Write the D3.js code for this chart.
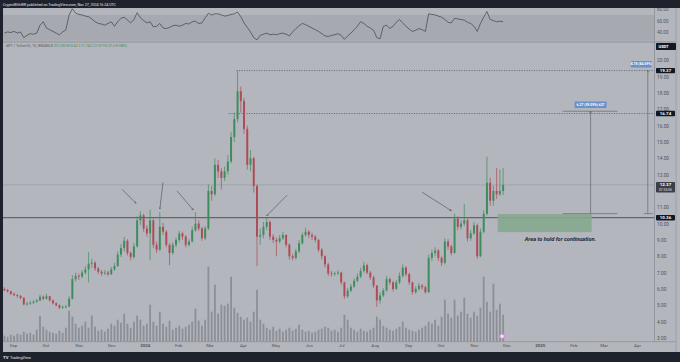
<!DOCTYPE html>
<html>
<head>
<meta charset="utf-8">
<script src="https://d3js.org/d3.v7.min.js"></script>
<style>
  body { margin: 0; background: #1e222d; }
  svg { display: block; font-family: Roboto, "Liberation Sans", sans-serif; }
</style>
</head>
<body>
<div id="chart"></div>
<script>
// APT / USDT, candles of 3 days from 2023-08-23
const startDate = new Date(Date.UTC(2023, 7, 23));
const opens = [6.00,5.93,5.85,5.70,5.62,5.58,5.45,5.05,5.10,5.15,5.22,5.30,5.52,5.40,5.55,5.30,5.12,5.00,4.85,4.90,
  4.92,5.40,6.60,6.80,6.75,7.00,7.20,7.55,7.60,7.25,7.05,6.95,7.00,6.90,7.20,7.40,8.10,8.50,8.95,8.20,
  7.95,8.60,10.20,10.50,9.70,9.40,10.20,8.70,8.40,9.80,9.50,8.70,8.20,8.70,9.00,9.40,9.20,8.70,8.90,9.60,
  10.00,9.70,9.10,9.70,12.00,11.80,13.60,13.20,12.80,13.20,13.80,15.30,16.40,18.10,17.50,15.80,13.60,14.00,12.30,9.20,
  9.30,9.80,10.10,9.20,9.00,8.90,9.10,9.30,8.70,8.00,7.90,8.30,8.80,9.30,9.50,9.30,9.20,9.00,8.40,8.00,
  7.50,6.95,6.90,6.95,7.00,6.40,5.55,5.90,6.15,6.50,6.75,7.10,7.45,7.00,6.70,6.20,5.30,5.60,5.90,6.60,
  6.40,6.00,6.40,6.80,7.30,6.90,6.40,5.80,6.00,6.20,6.10,5.80,7.90,8.20,8.35,7.90,7.60,8.90,8.60,8.20,
  10.30,9.80,10.00,10.20,9.10,9.40,9.90,8.00,9.50,10.60,12.50,11.40,12.00,11.80,12.00];
const closes = [5.93,5.85,5.70,5.62,5.58,5.45,5.05,5.10,5.15,5.22,5.30,5.52,5.40,5.55,5.30,5.12,5.00,4.85,4.90,4.92,
  5.40,6.60,6.80,6.75,7.00,7.20,7.55,7.60,7.25,7.05,6.95,7.00,6.90,7.20,7.40,8.10,8.50,8.95,8.20,7.95,
  8.60,10.20,10.50,9.70,9.40,10.20,8.70,8.40,9.80,9.50,8.70,8.20,8.70,9.00,9.40,9.20,8.70,8.90,9.60,10.00,
  9.70,9.10,9.70,12.00,11.80,13.60,13.20,12.80,13.20,13.80,15.30,16.40,18.10,17.50,15.80,13.60,14.00,12.30,9.20,9.30,
  9.80,10.10,9.20,9.00,8.90,9.10,9.30,8.70,8.00,7.90,8.30,8.80,9.30,9.50,9.30,9.20,9.00,8.40,8.00,7.50,
  6.95,6.90,6.95,7.00,6.40,5.55,5.90,6.15,6.50,6.75,7.10,7.45,7.00,6.70,6.20,5.30,5.60,5.90,6.60,6.40,
  6.00,6.40,6.80,7.30,6.90,6.40,5.80,6.00,6.20,6.10,5.80,7.90,8.20,8.35,7.90,7.60,8.90,8.60,8.20,10.30,
  9.80,10.00,10.20,9.10,9.40,9.90,8.00,9.50,10.60,12.50,11.40,12.00,11.80,12.00,12.37];
const highs = [6.10,6.00,5.90,5.78,5.70,5.62,5.50,5.20,5.25,5.30,5.38,5.65,5.60,5.70,5.58,5.35,5.18,5.05,4.98,5.02,
  5.55,6.85,7.00,6.95,7.15,7.40,8.25,7.85,7.70,7.35,7.15,7.15,7.10,7.35,7.60,8.30,8.75,9.20,9.05,8.30,
  8.80,10.45,10.75,10.60,9.90,10.85,10.30,8.90,10.70,10.05,9.60,8.80,8.85,9.15,9.55,9.50,9.30,9.05,9.80,10.70,
  10.20,9.80,9.85,12.40,12.30,14.00,13.90,13.40,13.50,14.20,15.60,16.80,19.37,18.40,17.70,16.00,14.50,14.10,12.40,9.70,
  10.10,10.35,10.20,9.35,9.15,9.30,9.50,9.35,8.80,8.15,8.45,9.00,9.45,9.75,9.60,9.45,9.30,9.05,8.50,8.05,
  7.60,7.10,7.05,7.15,7.05,6.45,6.05,6.30,6.65,6.95,7.30,7.65,7.55,7.10,6.80,6.25,5.80,6.05,6.80,6.70,
  6.50,6.55,7.00,7.50,7.40,7.00,6.45,6.15,6.35,6.30,6.20,8.10,8.40,8.55,8.45,8.00,9.10,9.05,8.70,10.60,
  10.45,10.20,11.20,10.30,9.60,10.10,10.00,9.70,10.80,14.10,12.80,12.30,13.40,13.30,13.41];
const lows = [5.85,5.78,5.62,5.55,5.45,5.35,4.98,4.98,5.02,5.08,5.15,5.25,5.32,5.35,5.22,5.05,4.92,4.76,4.78,4.82,
  4.88,5.35,6.45,6.55,6.65,6.90,6.40,7.30,7.10,6.90,6.80,6.85,6.78,6.85,7.10,7.35,7.95,8.30,8.05,7.75,
  7.85,8.55,9.90,9.50,9.20,7.75,8.50,8.20,8.30,9.30,8.55,7.45,8.10,8.55,8.85,9.00,8.55,8.60,8.85,9.50,
  9.55,8.95,9.00,9.60,11.40,11.70,12.80,12.10,12.60,13.00,13.70,15.00,16.20,16.80,15.50,13.30,13.20,11.90,7.40,8.70,
  9.10,9.60,9.00,8.80,8.00,8.80,9.00,8.55,7.80,7.75,7.80,8.20,8.70,9.20,9.10,9.00,8.85,8.25,7.80,7.30,
  6.80,6.75,6.80,6.85,6.25,5.40,5.45,5.80,6.05,6.40,6.65,7.00,6.90,6.55,6.05,4.91,5.10,5.50,5.85,6.25,
  5.85,5.95,6.30,6.70,6.75,6.25,5.65,5.70,5.90,5.95,5.70,5.75,7.70,8.00,7.70,7.40,7.50,8.40,8.05,8.15,
  9.60,9.65,9.85,8.90,8.95,9.30,7.85,7.95,9.40,10.50,11.10,11.10,11.50,11.70,11.74];
const volumes = [6,5,7,6,8,7,10,8,9,7,12,26,15,12,10,9,8,11,9,14,
  31,25,18,14,16,20,14,26,15,11,12,10,13,18,16,22,19,28,18,14,
  20,26,22,16,18,37,20,16,30,18,15,21,12,14,16,13,15,17,20,33,
  21,16,22,75,30,57,28,37,36,38,65,34,29,25,22,24,20,30,52,22,
  18,14,12,15,11,13,10,12,14,11,13,17,12,10,11,9,10,12,13,15,
  14,11,12,10,14,27,22,14,12,10,13,11,10,12,14,25,22,16,14,12,
  11,13,15,20,14,12,11,10,12,14,16,20,18,22,16,25,42,28,24,42,
  26,30,44,28,24,30,26,34,65,40,30,58,32,38,27];
const rsiValues = [38,40,39,41,38,40,30,34,37,36,38,52,58,47,44,41,38,35,40,44,
  70,81,73,71,70,68,67,63,58,55,54,52,55,58,50,58,64,66,61,56,
  62,74,65,60,56,58,49,50,55,47,46,48,51,52,50,52,55,54,58,59,
  55,56,65,73,70,72,72,70,68,69,71,72,75,67,56,48,40,30,26,34,
  36,38,35,36,35,37,38,36,33,40,46,51,55,53,50,47,44,41,37,33,
  32,34,35,37,34,27,33,38,44,50,58,55,50,47,43,30,28,50,52,46,
  50,57,62,56,50,45,41,43,46,44,41,72,71,70,68,66,62,57,56,64,
  63,62,61,57,55,50,41,55,66,76,62,60,58,59,58];

// 12.00 sits under the last-price tag, so it is left out
const priceTicks = [3,4,5,6,7,8,9,10,11,13,14,15,16,17,18,19,20];
const rsiTicks = [80, 60, 40];
const monthTicks = ["2023-09-01","2023-10-01","2023-11-01","2023-12-01","2024-01-01","2024-02-01","2024-03-01",
  "2024-04-01","2024-05-01","2024-06-01","2024-07-01","2024-08-01","2024-09-01","2024-10-01","2024-11-01",
  "2024-12-01","2025-01-01","2025-02-01","2025-03-01","2025-04-01"];
const monthLabels = ["Sep","Oct","Nov","Dec","2024","Feb","Mar","Apr","May","Jun","Jul","Aug","Sep","Oct","Nov",
  "Dec","2025","Feb","Mar","Apr"];

// levels and drawings
const supportLevel = 10.36;
const lastPrice = 12.37;
const highLevel = 19.37;
const midLevel = 16.74;
const arrows = [
  ["2023-12-11", 12.10, "2023-12-24", 11.24],
  ["2024-01-18", 12.53, "2024-01-15", 10.89],
  ["2024-01-31", 12.00, "2024-02-15", 10.83],
  ["2024-05-12", 11.75, "2024-04-23", 10.48],
  ["2024-09-14", 11.92, "2024-10-11", 10.79]
];

const W = 680, H = 362;
const paneLeft = 3, axisX = 654.5, paneRight = 676;
const parse = d3.utcParse("%Y-%m-%d");

const svg = d3.select("#chart").append("svg")
  .attr("width", W).attr("height", H);

const defs = svg.append("defs");
defs.append("clipPath").attr("id", "clipMain")
  .append("rect").attr("x", paneLeft).attr("y", 42).attr("width", axisX - paneLeft).attr("height", 299.7);
defs.append("marker").attr("id", "arrowHead")
  .attr("viewBox", "0 0 6 6").attr("refX", 5).attr("refY", 3)
  .attr("markerWidth", 4).attr("markerHeight", 4).attr("orient", "auto")
  .append("path").attr("d", "M0,0.5 L5.5,3 L0,5.5").attr("fill", "none").attr("stroke", "#4a4d55").attr("stroke-width", 1);

// Scales
const x = d3.scaleUtc()
  .domain([parse("2023-09-01"), parse("2025-04-01")])
  .range([13, 637]);
const y = d3.scaleLinear().domain([3, 20]).range([337.9, 60.3]);
const yRsi = d3.scaleLinear().domain([22.8, 82.3]).range([41.7, 8]);
const yVol = d3.scaleLinear().domain([0, 75]).range([341.7, 266.7]);

const candleDates = closes.map((_, i) => d3.utcDay.offset(startDate, 3 * i));
const cx = i => x(d3.utcDay.offset(candleDates[i], 1));
const step = x(d3.utcDay.offset(startDate, 3)) - x(startDate);

// background panes
svg.append("rect").attr("x", paneLeft).attr("y", 8).attr("width", W - paneLeft).attr("height", 344)
  .attr("fill", "#b4b6bd");
svg.append("rect").attr("x", paneLeft).attr("y", yRsi(70)).attr("width", axisX - paneLeft)
  .attr("height", yRsi(24.6) - yRsi(70)).attr("fill", "#a7a9b0");
svg.append("line").attr("x1", paneLeft).attr("x2", paneRight).attr("y1", 42).attr("y2", 42)
  .attr("stroke", "#8e9097").attr("stroke-width", 1);
svg.append("line").attr("x1", axisX).attr("x2", axisX).attr("y1", 8).attr("y2", 342)
  .attr("stroke", "#8e9097").attr("stroke-width", 0.8);
svg.append("line").attr("x1", paneRight).attr("x2", paneRight).attr("y1", 8).attr("y2", 352)
  .attr("stroke", "#9a9ca3").attr("stroke-width", 0.8);
svg.append("line").attr("x1", paneLeft).attr("x2", paneRight).attr("y1", 341.7).attr("y2", 341.7)
  .attr("stroke", "#8e9097").attr("stroke-width", 0.8);

// RSI line
svg.append("path")
  .datum(rsiValues)
  .attr("d", d3.line().x((d, i) => cx(i)).y(d => yRsi(d)))
  .attr("fill", "none").attr("stroke", "#3d4048").attr("stroke-width", 0.7);

const main = svg.append("g").attr("clip-path", "url(#clipMain)");

// volume
main.selectAll("rect.vol")
  .data(volumes)
  .enter().append("rect").attr("class", "vol")
  .attr("x", (d, i) => cx(i) - step * 0.28)
  .attr("width", step * 0.56)
  .attr("y", d => yVol(d))
  .attr("height", d => yVol(0) - yVol(d))
  .attr("fill", "#8c8f97");

// horizontal levels
main.append("line").attr("x1", paneLeft).attr("x2", axisX)
  .attr("y1", y(lastPrice)).attr("y2", y(lastPrice))
  .attr("stroke", "#94969d").attr("stroke-width", 0.6);
main.append("line").attr("x1", paneLeft).attr("x2", axisX)
  .attr("y1", y(supportLevel)).attr("y2", y(supportLevel))
  .attr("stroke", "#4f525a").attr("stroke-width", 1);
main.append("line").attr("x1", x(parse("2024-03-26"))).attr("x2", axisX)
  .attr("y1", y(highLevel)).attr("y2", y(highLevel))
  .attr("stroke", "#4f525a").attr("stroke-width", 0.7).attr("stroke-dasharray", "1.2,1.3");
main.append("line").attr("x1", x(parse("2024-03-19"))).attr("x2", axisX)
  .attr("y1", y(midLevel)).attr("y2", y(midLevel))
  .attr("stroke", "#4f525a").attr("stroke-width", 0.7).attr("stroke-dasharray", "1.2,1.3");

// green zone
main.append("rect")
  .attr("x", x(parse("2024-11-23"))).attr("width", x(parse("2025-02-18")) - x(parse("2024-11-23")))
  .attr("y", y(10.58)).attr("height", y(9.48) - y(10.58))
  .attr("fill", "#86a88f").attr("opacity", 0.9);
main.append("text")
  .attr("x", x(parse("2024-12-18"))).attr("y", y(8.95))
  .attr("font-size", 5.6).attr("font-style", "italic").attr("font-weight", "bold")
  .attr("fill", "#23262e")
  .text("Area to hold for continuation.");

// candles
const up = i => closes[i] >= opens[i];
const candleColor = i => up(i) ? "#3e8c5c" : "#ad4b56";
main.selectAll("line.wick")
  .data(closes)
  .enter().append("line").attr("class", "wick")
  .attr("x1", (d, i) => cx(i)).attr("x2", (d, i) => cx(i))
  .attr("y1", (d, i) => y(highs[i])).attr("y2", (d, i) => y(lows[i]))
  .attr("stroke", (d, i) => candleColor(i)).attr("stroke-width", 0.7);
main.selectAll("rect.body")
  .data(closes)
  .enter().append("rect").attr("class", "body")
  .attr("x", (d, i) => cx(i) - step * 0.3)
  .attr("width", step * 0.6)
  .attr("y", (d, i) => y(Math.max(opens[i], closes[i])))
  .attr("height", (d, i) => Math.max(0.8, Math.abs(y(opens[i]) - y(closes[i]))))
  .attr("fill", (d, i) => candleColor(i));

// arrows
main.selectAll("line.arrow")
  .data(arrows)
  .enter().append("line").attr("class", "arrow")
  .attr("x1", d => x(parse(d[0]))).attr("y1", d => y(d[1]))
  .attr("x2", d => x(parse(d[2]))).attr("y2", d => y(d[3]))
  .attr("stroke", "#4a4d55").attr("stroke-width", 0.6)
  .attr("marker-end", "url(#arrowHead)");

// measure tools
const m1L = x(parse("2025-01-22")), m1R = x(parse("2025-03-14")), m1X = x(parse("2025-02-17"));
[16.88, 10.61].forEach(p => {
  main.append("line").attr("x1", m1L).attr("x2", m1R).attr("y1", y(p)).attr("y2", y(p))
    .attr("stroke", "#5a5d65").attr("stroke-width", 0.6);
});
main.append("line").attr("x1", m1X).attr("x2", m1X).attr("y1", y(10.61)).attr("y2", y(16.88))
  .attr("stroke", "#5a5d65").attr("stroke-width", 0.6).attr("marker-end", "url(#arrowHead)");
const m2X = x(parse("2025-04-11"));
main.append("line").attr("x1", m2X).attr("x2", m2X).attr("y1", y(10.61)).attr("y2", y(highLevel))
  .attr("stroke", "#5a5d65").attr("stroke-width", 0.6).attr("marker-end", "url(#arrowHead)");
main.append("line").attr("x1", m2X - 4).attr("x2", m2X + 5).attr("y1", y(10.61)).attr("y2", y(10.61))
  .attr("stroke", "#5a5d65").attr("stroke-width", 0.6);

function blueLabel(cxp, cyp, w, txt) {
  svg.append("rect").attr("x", cxp - w / 2).attr("y", cyp - 3.2).attr("width", w).attr("height", 6.4)
    .attr("rx", 0.8).attr("fill", "#6a8fc9");
  svg.append("text").attr("x", cxp).attr("y", cyp + 1.2).attr("text-anchor", "middle")
    .attr("font-size", 3.4).attr("font-weight", "bold").attr("fill", "#ffffff").text(txt);
}
blueLabel(m1X, y(16.88) - 6.5, 32, "6.27 (59.09%) 627");
blueLabel(m2X - 6.5, y(highLevel) - 6.3, 21, "8.78 (84.69%)");

// event marker
svg.append("circle").attr("cx", x(parse("2024-11-27"))).attr("cy", y(3.1)).attr("r", 2.3)
  .attr("fill", "#f2e6f5").attr("stroke", "#c98ad6").attr("stroke-width", 1.1);

// price axis
const yAxis = svg.append("g")
  .attr("transform", `translate(${axisX + 2.5},0)`)
  .call(d3.axisRight(y).tickValues(priceTicks).tickFormat(d3.format(".2f")).tickSize(0).tickPadding(0));
yAxis.select(".domain").remove();
yAxis.selectAll("text").attr("font-size", 4.8).attr("fill", "#50535b").attr("font-family", "Roboto, sans-serif");

const rsiAxis = svg.append("g")
  .attr("transform", `translate(${axisX + 2.5},0)`)
  .call(d3.axisRight(yRsi).tickValues(rsiTicks).tickFormat(d3.format(".2f")).tickSize(0).tickPadding(0));
rsiAxis.select(".domain").remove();
rsiAxis.selectAll("text").attr("font-size", 4.6).attr("fill", "#50535b").attr("font-family", "Roboto, sans-serif");

// time axis
const xAxis = svg.append("g")
  .attr("transform", "translate(0,343)")
  .call(d3.axisBottom(x).tickValues(monthTicks.map(parse)).tickFormat((d, i) => monthLabels[i]).tickSize(0).tickPadding(1));
xAxis.select(".domain").remove();
xAxis.selectAll("text").attr("font-size", 4.4).attr("fill", "#50535b").attr("font-family", "Roboto, sans-serif")
  .attr("font-weight", (d, i) => monthLabels[i].length === 4 ? "bold" : "normal");

// price labels on axis
function priceTag(p, txt, fill) {
  svg.append("rect").attr("x", axisX + 1.5).attr("y", y(p) - 2.7).attr("width", 19).attr("height", 5.4)
    .attr("rx", 0.8).attr("fill", fill);
  svg.append("text").attr("x", axisX + 11).attr("y", y(p) + 1.6).attr("text-anchor", "middle")
    .attr("font-size", 4.4).attr("font-weight", "bold").attr("fill", "#ffffff").text(txt);
}
priceTag(highLevel, "19.37", "#131722");
priceTag(midLevel, "16.74", "#131722");
priceTag(supportLevel, "10.36", "#131722");
svg.append("rect").attr("x", axisX + 1.5).attr("y", y(lastPrice) - 3).attr("width", 19).attr("height", 10.5)
  .attr("rx", 0.8).attr("fill", "#3c3f47");
svg.append("text").attr("x", axisX + 11).attr("y", y(lastPrice) + 1.6).attr("text-anchor", "middle")
  .attr("font-size", 4.4).attr("font-weight", "bold").attr("fill", "#ffffff").text("12.37");
svg.append("text").attr("x", axisX + 11).attr("y", y(lastPrice) + 6.3).attr("text-anchor", "middle")
  .attr("font-size", 3.4).attr("fill", "#e6e6e6").text("07:35:05");
svg.append("rect").attr("x", axisX + 1.5).attr("y", 43).attr("width", 20).attr("height", 7)
  .attr("rx", 0.8).attr("fill", "#131722");
svg.append("text").attr("x", axisX + 4).attr("y", 48).attr("font-size", 4).attr("font-weight", "bold")
  .attr("fill", "#ffffff").text("USDT");

// frame: top and bottom strips, left edge
svg.append("rect").attr("x", 0).attr("y", 0).attr("width", W).attr("height", 8).attr("fill", "#1e222d");
svg.append("rect").attr("x", 0).attr("y", 352).attr("width", W).attr("height", 10).attr("fill", "#1e222d");
svg.append("rect").attr("x", 0).attr("y", 0).attr("width", paneLeft).attr("height", H).attr("fill", "#1e222d");

svg.append("text").attr("x", 3).attr("y", 5.6).attr("font-size", 3.6).attr("fill", "#e8e8ea")
  .text("CryptoWithWK published on TradingView.com, Nov 27, 2024 16:24 UTC");
svg.append("text").attr("x", 3).attr("y", 358.8).attr("font-size", 4.2).attr("fill", "#e8e8ea")
  .attr("font-weight", "bold").text("TV")
  .append("tspan").attr("dx", 1.5).attr("font-weight", "normal").attr("font-size", 3.8).text("TradingView");

// legend
const legend = svg.append("text").attr("x", 6).attr("y", 46.8).attr("font-size", 3.6).attr("fill", "#5b5e66");
legend.append("tspan").text("APT / TetherUS, 1D, BINANCE ");
legend.append("tspan").attr("fill", "#3f8a5b")
  .text(" O12.00  H13.41  L11.74  C12.37  +0.37 (+3.08%)");
</script>
</body>
</html>
